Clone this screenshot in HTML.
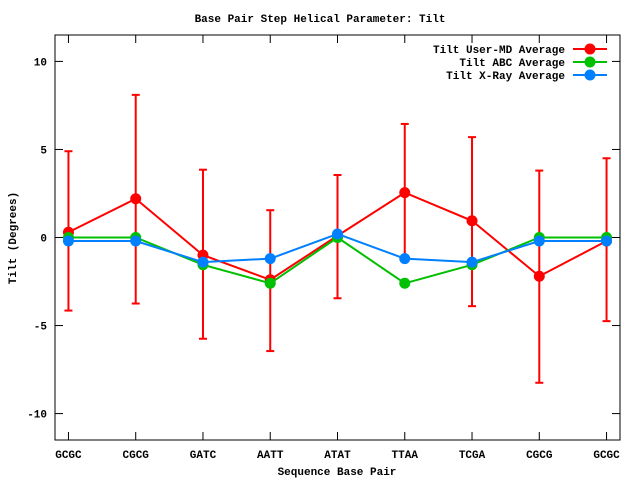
<!DOCTYPE html>
<html><head><meta charset="utf-8"><style>
body{margin:0;background:#fff}
svg{display:block;font-family:"Liberation Mono",monospace;font-weight:bold;font-size:11px}
</style></head><body>
<svg id="chart" width="640" height="480" viewBox="0 0 640 480"></svg>
<script>
const categories=["GCGC","CGCG","GATC","AATT","ATAT","TTAA","TCGA","CGCG","GCGC"];
const mdValues=[0.3,2.2,-1.0,-2.4,0.1,2.55,0.95,-2.2,-0.2];
const mdUpper=[4.9,8.1,3.85,1.55,3.55,6.45,5.7,3.8,4.5];
const mdLower=[-4.15,-3.75,-5.75,-6.45,-3.45,-1.2,-3.9,-8.25,-4.75];
const abcValues=[0,0,-1.55,-2.6,0,-2.6,-1.55,0,0];
const xrayValues=[-0.2,-0.2,-1.4,-1.2,0.2,-1.2,-1.4,-0.2,-0.2];
const yTicks=[-10,-5,0,5,10];
const L=55,R=620,T=35,B=440,ymin=-11.5,ymax=11.5,xmin=-0.2,xmax=8.2;
const sx=i=>L+(i-xmin)/(xmax-xmin)*(R-L);
const sy=v=>B-(v-ymin)/(ymax-ymin)*(B-T);
const svg=document.getElementById('chart');
const NS='http://www.w3.org/2000/svg';
function mk(tag,attrs,parent){const e=document.createElementNS(NS,tag);for(const k in attrs)e.setAttribute(k,attrs[k]);(parent||svg).appendChild(e);return e;}
function txt(x,y,s,anchor,extra){const e=mk('text',Object.assign({x:x,y:y,'text-anchor':anchor},extra||{}));e.textContent=s;return e;}
let t=txt(320,22,'Base Pair Step Helical Parameter: Tilt','middle');


let frame=mk('rect',{x:L,y:T,width:R-L,height:B-T,fill:'none',stroke:'#000','stroke-width':1});


yTicks.forEach(v=>{
  mk('line',{x1:L,x2:L+8,y1:sy(v),y2:sy(v),stroke:'#000'});
  mk('line',{x1:R,x2:R-8,y1:sy(v),y2:sy(v),stroke:'#000'});
  let e=txt(L-8,sy(v)+4,String(v),'end');
  
  
});
categories.forEach((c,i)=>{
  mk('line',{x1:sx(i),x2:sx(i),y1:B,y2:B-8,stroke:'#000'});
  mk('line',{x1:sx(i),x2:sx(i),y1:T,y2:T+8,stroke:'#000'});
  let e=txt(sx(i),B+18,c,'middle');
  
  
});
let yt=txt(0,0,'Tilt (Degrees)','middle',{transform:'translate(16,238) rotate(-90)'});


let xt=txt(337,475,'Sequence Base Pair','middle');


// error bars
mdValues.forEach((v,i)=>{
  const g=mk('g',{stroke:'#ff0000','stroke-width':2});
  
  
  mk('line',{x1:sx(i),x2:sx(i),y1:sy(mdUpper[i]),y2:sy(mdLower[i])},g);
  mk('line',{x1:sx(i)-4,x2:sx(i)+4,y1:sy(mdUpper[i]),y2:sy(mdUpper[i])},g);
  mk('line',{x1:sx(i)-4,x2:sx(i)+4,y1:sy(mdLower[i]),y2:sy(mdLower[i])},g);
});
function series(vals,color,name){
  const g=mk('g',{});
  
  
  mk('polyline',{points:vals.map((v,i)=>sx(i)+','+sy(v)).join(' '),fill:'none',stroke:color,'stroke-width':2},g);
  vals.forEach((v,i)=>{const c=mk('circle',{cx:sx(i),cy:sy(v),r:5.5,fill:color},g);
    
    });
}
series(mdValues,'#ff0000','series-user-md');
series(abcValues,'#00c000','series-abc');
series(xrayValues,'#0080ff','series-xray');
[['Tilt User-MD Average','#ff0000'],['Tilt ABC Average','#00c000'],['Tilt X-Ray Average','#0080ff']].forEach((d,k)=>{
  const y=49+k*13;
  const g=mk('g',{});
  
  
  const e=mk('text',{x:565,y:y+4,'text-anchor':'end'},g);e.textContent=d[0];
  mk('line',{x1:573,x2:607,y1:y,y2:y,stroke:d[1],'stroke-width':2},g);
  mk('circle',{cx:590,cy:y,r:5.5,fill:d[1]},g);
});
</script>
</body></html>
